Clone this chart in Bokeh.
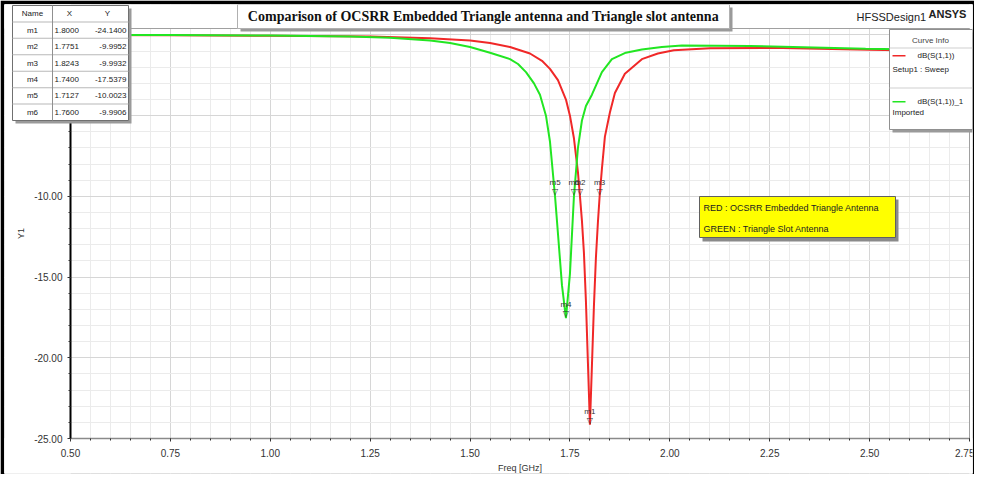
from bokeh.plotting import figure
from bokeh.models import BoxAnnotation, Label, FixedTicker, PrintfTickFormatter, Range1d
from bokeh.core.properties import value
from bokeh.embed import file_html
from bokeh.resources import INLINE

# ---------------- data ----------------
red_freq = [0.50, 0.75, 1.00, 1.25, 1.40, 1.50, 1.55, 1.60, 1.65, 1.68, 1.70, 1.72, 1.74, 1.75,
            1.76, 1.77, 1.7751, 1.78, 1.785, 1.79, 1.795, 1.80, 1.805, 1.81, 1.815, 1.82, 1.8243,
            1.83, 1.8375, 1.85, 1.8625, 1.8875, 1.93, 1.97, 2.01, 2.10, 2.25, 2.50, 2.75]
red_db = [0.00, -0.02, -0.05, -0.10, -0.20, -0.35, -0.50, -0.75, -1.15, -1.60, -2.10, -2.80, -4.00, -5.00,
          -6.40, -8.50, -9.9952, -11.5, -13.5, -16.5, -20.3, -24.14, -20.5, -16.8, -13.8, -11.6, -9.9932,
          -8.30, -6.30, -4.80, -3.60, -2.40, -1.50, -1.15, -0.95, -0.82, -0.80, -0.92, -1.02]

green_freq = [0.50, 0.75, 1.00, 1.20, 1.30, 1.40, 1.45, 1.50, 1.55, 1.60, 1.62, 1.64, 1.66, 1.675,
              1.69, 1.70, 1.7127, 1.72, 1.73, 1.74, 1.75, 1.76, 1.77, 1.78, 1.79, 1.805, 1.83,
              1.855, 1.89, 1.93, 1.98, 2.03, 2.20, 2.49, 2.75]
green_db = [0.00, -0.01, -0.04, -0.10, -0.18, -0.35, -0.50, -0.75, -1.10, -1.50, -1.80, -2.30, -3.00, -3.70,
            -5.00, -6.60, -10.0023, -12.3, -15.5, -17.5379, -14.8, -9.9906, -7.00, -5.30, -4.40, -3.70, -2.30,
            -1.50, -1.10, -0.90, -0.75, -0.65, -0.68, -0.85, -0.95]

marker_names = ["m1", "m2", "m3", "m4", "m5", "m6"]
marker_x = [1.8000, 1.7751, 1.8243, 1.7400, 1.7127, 1.7600]
marker_y = [-24.1400, -9.9952, -9.9932, -17.5379, -10.0023, -9.9906]

x_ticks = [0.50, 0.75, 1.00, 1.25, 1.50, 1.75, 2.00, 2.25, 2.50, 2.75]
y_ticks = [-25.0, -20.0, -15.0, -10.0, -5.0, 0.0]

title_text = "Comparison of OCSRR Embedded Triangle antenna and Triangle slot antenna"
legend_names = ["dB(S(1,1))", "dB(S(1,1))_1"]
legend_subs = ["Setup1 : Sweep", "Imported"]
note_lines = ["RED : OCSRR Embedded Triangle Antenna", "GREEN : Triangle Slot Antenna"]

# ---------------- geometry (reference pixels -> data) ----------------
XA, XB = 0.5, 2.75          # data x extent of the plotting box
YA, YB = -25.0, 0.4         # data y extent of the plotting box
FL, FR, FT, FB = 78, 977, 36, 446   # plotting box in reference pixels
SX = (FR - FL) / (XB - XA)
SY = (FB - FT) / (YB - YA)


def X(px):
    return XA + (px - FL) / SX


def Y(py):
    return YA + (FB - py) / SY


# canvas frame covers reference pixels 12..980 x 12..481 (page offset 8)
p = figure(width=974, height=474, output_backend="svg", toolbar_location=None,
           x_range=Range1d(X(12), X(980)), y_range=Range1d(Y(481), Y(12)),
           min_border_left=4, min_border_right=2, min_border_top=4, min_border_bottom=1,
           background_fill_color="white", border_fill_color="black")
p.outline_line_color = None

FONT = value("Liberation Sans")

# axes placed at the plotting box edges
minor_x = [0.5 + 0.05 * i for i in range(46)]
minor_y = [-25.0 + 1.0 * i for i in range(26)]
p.xaxis.ticker = FixedTicker(ticks=x_ticks, minor_ticks=minor_x)
p.yaxis.ticker = FixedTicker(ticks=y_ticks, minor_ticks=minor_y)
p.xaxis.formatter = PrintfTickFormatter(format="%.2f")
p.yaxis.formatter = PrintfTickFormatter(format="%.2f")
p.xaxis.fixed_location = YA
p.yaxis.fixed_location = XA
p.xaxis.bounds = (XA, XB)
p.yaxis.bounds = (YA, YB)
for ax in (p.xaxis[0], p.yaxis[0]):
    ax.major_label_text_font = "Liberation Sans"
    ax.major_label_text_font_size = "10px"
    ax.major_label_text_color = "#333333"
    ax.axis_label_text_font = "Liberation Sans"
    ax.axis_label_text_font_size = "9px"
    ax.axis_label_text_font_style = "normal"
    ax.axis_label_text_color = "#333333"
    ax.major_tick_in = 0
    ax.major_tick_out = 3
    ax.minor_tick_in = 0
    ax.minor_tick_out = 2
    ax.major_tick_line_color = "#333333"
    ax.minor_tick_line_color = "#333333"
p.xaxis.axis_label = "Freq [GHz]"
p.yaxis.axis_label = "Y1"
p.xaxis.axis_line_color = "#8a8a8a"
p.xaxis.axis_line_width = 1.5
p.yaxis.axis_line_color = "black"
p.yaxis.axis_line_width = 2
p.xaxis.major_label_standoff = 7
p.xaxis.axis_label_standoff = 3
p.yaxis.major_label_standoff = 5
p.yaxis.axis_label_standoff = 5

for g in (p.xgrid[0], p.ygrid[0]):
    g.grid_line_color = "#d6d6d6"
    g.grid_line_width = 1
    g.minor_grid_line_color = "#ebebeb"
    g.minor_grid_line_width = 1


def box(x0, y0, x1, y1, fill="white", line=None, lw=1, level="overlay", fill_alpha=1.0):
    b = BoxAnnotation(left=X(x0), right=X(x1), top=Y(y0), bottom=Y(y1),
                      fill_color=fill, fill_alpha=fill_alpha if fill else 0.0,
                      line_color=line, line_width=lw, line_alpha=1.0 if line else 0.0,
                      level=level, editable=False)
    p.add_layout(b)
    return b


def label(x, y, text, size="8px", align="left", font="Liberation Sans", style="normal",
          color="#222222", baseline="middle"):
    l = Label(x=X(x), y=Y(y), text=text, text_font=font, text_font_size=size,
              text_align=align, text_baseline=baseline, text_font_style=style,
              text_color=color, level="overlay")
    p.add_layout(l)
    return l


# white masks outside the plotting box (over the grid, under the curves/axes)
box(0, 0, FL, 500, level="underlay")
box(0, FB, 1000, 500, level="underlay")
box(0, 0, 1000, FT, level="underlay")
box(FR, 0, 1000, 500, level="underlay")
box(FL, FT, FR, FB, fill=None, line="#a0a0a0", lw=1, level="underlay")

# curves
p.line(red_freq, red_db, line_color="#f02828", line_width=2)
p.line(green_freq, green_db, line_color="#22e622", line_width=2)

# markers
p.text(marker_x, marker_y, text=marker_names, text_font=FONT, text_font_size="8px",
       text_align="center", text_baseline="bottom", y_offset=-9, text_color="#333333")
p.text(marker_x, marker_y, text=["\u25BD"] * len(marker_x), text_font=value("DejaVu Sans"),
       text_font_size="8px", text_align="center", text_baseline="bottom", y_offset=0,
       text_color="#333333")

# title box
box(248, 15, 740, 39, fill="#9a9a9a")
box(245, 12, 737, 36, fill="white", line="#b0b0b0")
label(491, 23.5, title_text, size="14px", align="center", font="Liberation Serif", style="bold",
      color="#111111")
label(864, 24, "HFSSDesign1", size="11px", color="#222222")
label(936, 21, "ANSYS", size="11px", style="bold", color="#222222")

# marker table
box(23, 16, 139, 131, fill="#9a9a9a")
box(20, 13, 136, 128, fill="white", line="#707070")
row_h = (128 - 13) / 7.0
for k in range(1, 7):
    yy = 13 + row_h * k
    box(20, yy - 0.5, 136, yy + 0.5, fill="#b8b8b8")
box(59.5, 13, 60.5, 128, fill="#909090")
label(40, 13 + row_h / 2, "Name", size="8px", align="center")
label(77, 13 + row_h / 2, "X", size="8px", align="center")
label(115, 13 + row_h / 2, "Y", size="8px", align="center")
for i, (nm, mx, my) in enumerate(zip(marker_names, marker_x, marker_y)):
    yy = 13 + row_h * (i + 1.5)
    label(40, yy, nm, size="8px", align="center")
    label(62, yy, "%.4f" % mx, size="8px", align="left")
    label(134, yy, "%.4f" % my, size="8px", align="right")

# curve info legend
box(900, 40, 983, 140, fill="#9a9a9a")
box(897, 37, 980, 137, fill="white", line="#909090")
label(938, 48, "Curve Info", size="8px", align="center", color="#444444")
box(897, 55, 980, 56, fill="#d0d0d0")
box(900, 62.5, 913, 64, fill="#f02828")
label(925, 63, legend_names[0], size="8px")
label(900, 77, legend_subs[0], size="8px")
box(897, 95, 980, 96, fill="#d0d0d0")
box(900, 108.5, 913, 110, fill="#22e622")
label(925, 109, legend_names[1], size="8px")
label(900, 120, legend_subs[1], size="8px")

# yellow note box
box(710, 207, 906, 249, fill="#8a8a8a")
box(707, 204, 903, 245, fill="#ffff00", line="#606060")
label(711, 215, note_lines[0], size="9px", color="#222222")
label(711, 236, note_lines[1], size="9px", color="#222222")

open("out.html", "w").write(file_html(p, INLINE))
